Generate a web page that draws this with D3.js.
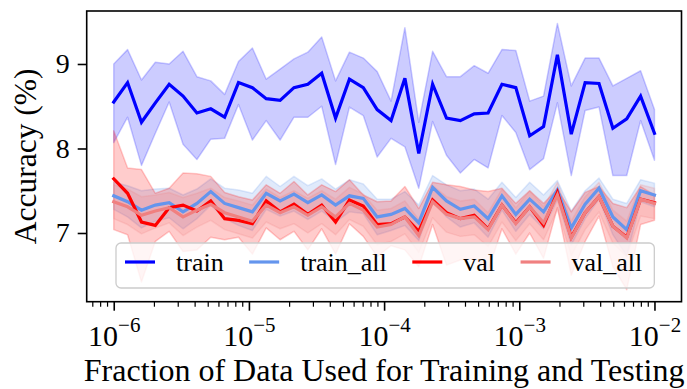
<!DOCTYPE html>
<html>
<head>
<meta charset="utf-8">
<script src="https://cdn.jsdelivr.net/npm/d3@7/dist/d3.min.js"></script>
<style>
  html, body { margin: 0; padding: 0; background: #fff; }
  svg { display: block; }
  svg text { font-family: "Liberation Serif", "Times New Roman", serif !important; fill: #000; }
</style>
</head>
<body>
<svg id="chart" width="687" height="389"></svg>
<script>
// Fraction of data used (40 log-spaced runs between 1e-6 and 1e-2)
const fractions = [
  1.000e-6, 1.266e-6, 1.604e-6, 2.031e-6, 2.571e-6, 3.256e-6, 4.123e-6, 5.221e-6, 6.612e-6, 8.373e-6,
  1.061e-5, 1.343e-5, 1.701e-5, 2.154e-5, 2.728e-5, 3.455e-5, 4.375e-5, 5.540e-5, 7.016e-5, 8.884e-5,
  1.126e-4, 1.425e-4, 1.805e-4, 2.285e-4, 2.894e-4, 3.665e-4, 4.642e-4, 5.878e-4, 7.444e-4, 9.427e-4,
  1.194e-3, 1.512e-3, 1.914e-3, 2.424e-3, 3.070e-3, 3.888e-3, 4.924e-3, 6.236e-3, 7.897e-3, 1.000e-2
];

// Accuracy (%) — mean curves and their shaded lower/upper bounds
const trainMean = [8.55, 8.78, 8.31, 8.54, 8.76, 8.62, 8.42, 8.47, 8.37, 8.78, 8.72, 8.59, 8.57, 8.72, 8.76, 8.89, 8.36, 8.82, 8.72, 8.46,
                   8.33, 8.83, 7.94, 8.76, 8.36, 8.33, 8.41, 8.42, 8.76, 8.72, 8.15, 8.26, 9.11, 8.17, 8.78, 8.77, 8.24, 8.35, 8.62, 8.18];
const trainHi   = [9.00, 9.17, 8.81, 9.02, 9.00, 9.15, 8.85, 8.80, 8.64, 9.03, 9.19, 8.82, 8.94, 9.06, 9.14, 9.32, 8.80, 9.14, 9.07, 8.91,
                   8.56, 9.43, 8.31, 9.15, 8.85, 8.85, 8.98, 8.89, 9.17, 9.16, 8.56, 8.62, 9.48, 8.74, 9.07, 9.07, 8.74, 8.83, 8.92, 8.46];
const trainLo   = [8.07, 8.37, 7.80, 8.18, 8.55, 8.05, 7.87, 8.11, 8.12, 8.52, 8.10, 8.33, 8.10, 8.37, 8.37, 8.50, 7.81, 8.49, 8.39, 7.90,
                   8.12, 8.02, 7.53, 8.32, 7.92, 7.71, 7.87, 7.77, 8.39, 8.19, 7.75, 7.88, 8.54, 7.68, 8.45, 8.49, 7.68, 7.68, 8.33, 7.86];

const trainAllMean = [7.44, 7.37, 7.27, 7.33, 7.36, 7.25, 7.35, 7.49, 7.35, 7.30, 7.25, 7.47, 7.38, 7.46, 7.36, 7.45, 7.33, 7.44, 7.41, 7.19,
                      7.22, 7.29, 7.12, 7.54, 7.38, 7.28, 7.32, 7.17, 7.44, 7.22, 7.40, 7.25, 7.51, 7.06, 7.34, 7.53, 7.19, 7.04, 7.50, 7.45];
const trainAllHi   = [7.60, 7.56, 7.50, 7.52, 7.53, 7.45, 7.52, 7.64, 7.53, 7.51, 7.47, 7.67, 7.55, 7.67, 7.56, 7.64, 7.52, 7.63, 7.58, 7.40,
                      7.40, 7.49, 7.33, 7.68, 7.57, 7.50, 7.52, 7.40, 7.60, 7.42, 7.60, 7.45, 7.62, 7.26, 7.50, 7.65, 7.40, 7.35, 7.63, 7.59];
const trainAllLo   = [7.28, 7.19, 7.06, 7.14, 7.18, 7.05, 7.17, 7.33, 7.17, 7.09, 7.03, 7.28, 7.20, 7.26, 7.16, 7.26, 7.13, 7.25, 7.23, 6.98,
                      7.03, 7.09, 6.91, 7.38, 7.19, 7.07, 7.12, 6.95, 7.27, 7.02, 7.22, 7.05, 7.39, 6.86, 7.17, 7.40, 6.98, 6.73, 7.37, 7.31];

const valMean = [7.64, 7.47, 7.13, 7.09, 7.30, 7.33, 7.26, 7.38, 7.17, 7.15, 7.11, 7.38, 7.25, 7.34, 7.22, 7.33, 7.13, 7.39, 7.32, 7.10,
                 7.11, 7.19, 7.02, 7.39, 7.24, 7.17, 7.21, 7.05, 7.33, 7.12, 7.31, 7.09, 7.48, 6.95, 7.24, 7.43, 7.08, 6.95, 7.40, 7.36];
const valHi   = [8.21, 7.77, 7.75, 7.47, 7.53, 7.71, 7.70, 7.67, 7.48, 7.43, 7.39, 7.57, 7.47, 7.61, 7.45, 7.57, 7.49, 7.63, 7.45, 7.37,
                 7.38, 7.55, 7.29, 7.60, 7.57, 7.55, 7.51, 7.49, 7.53, 7.35, 7.50, 7.35, 7.52, 7.25, 7.48, 7.55, 7.35, 7.30, 7.55, 7.45];
const valLo   = [7.04, 6.98, 6.42, 6.90, 7.02, 6.78, 6.80, 6.95, 6.92, 6.95, 6.75, 7.06, 6.92, 7.02, 6.80, 7.05, 6.75, 7.11, 6.96, 6.72,
                 6.85, 6.80, 6.60, 7.10, 6.62, 6.68, 6.70, 6.55, 7.05, 6.75, 7.00, 6.70, 7.30, 6.50, 6.90, 7.20, 6.60, 6.33, 7.10, 7.15];

const valAllMean = [7.37, 7.31, 7.21, 7.26, 7.30, 7.19, 7.27, 7.34, 7.24, 7.19, 7.14, 7.33, 7.24, 7.31, 7.21, 7.31, 7.19, 7.35, 7.27, 7.07,
                    7.10, 7.19, 6.97, 7.37, 7.22, 7.17, 7.19, 7.04, 7.33, 7.11, 7.31, 7.12, 7.45, 6.94, 7.24, 7.43, 7.08, 6.94, 7.40, 7.35];
const valAllHi   = [7.57, 7.52, 7.43, 7.45, 7.48, 7.42, 7.47, 7.53, 7.42, 7.38, 7.33, 7.52, 7.42, 7.50, 7.41, 7.50, 7.40, 7.54, 7.46, 7.27,
                    7.29, 7.38, 7.16, 7.56, 7.43, 7.38, 7.40, 7.24, 7.52, 7.30, 7.50, 7.31, 7.60, 7.14, 7.43, 7.60, 7.27, 7.14, 7.57, 7.53];
const valAllLo   = [7.17, 7.10, 6.99, 7.06, 7.12, 6.97, 7.07, 7.15, 7.04, 6.99, 6.94, 7.13, 7.05, 7.11, 7.00, 7.11, 6.98, 7.16, 7.08, 6.86,
                    6.90, 6.99, 6.77, 7.18, 7.01, 6.96, 6.98, 6.84, 7.13, 6.91, 7.11, 6.92, 7.28, 6.73, 7.04, 7.25, 6.88, 6.72, 7.20, 7.17];

const seriesNames = ["train", "train_all", "val", "val_all"];
const seriesColors = ["#0000ff", "#6495ed", "#ff0000", "#f08080"];
const xTickValues = [1e-6, 1e-5, 1e-4, 1e-3, 1e-2];
const xTickExponents = ["−6", "−5", "−4", "−3", "−2"];
const yTickValues = [7, 8, 9];
const xLabel = "Fraction of Data Used for Training and Testing";
const yLabel = "Accuracy (%)";

const SERIF = "'Liberation Serif', 'Times New Roman', serif";

const series = [
  { name: seriesNames[0], color: seriesColors[0], mean: trainMean,    lo: trainLo,    hi: trainHi },
  { name: seriesNames[1], color: seriesColors[1], mean: trainAllMean, lo: trainAllLo, hi: trainAllHi },
  { name: seriesNames[2], color: seriesColors[2], mean: valMean,      lo: valLo,      hi: valHi },
  { name: seriesNames[3], color: seriesColors[3], mean: valAllMean,   lo: valAllLo,   hi: valAllHi }
];

const plot = { left: 86.7, right: 681.5, top: 11, bottom: 301.7 };

const svg = d3.select("#chart");

const x = d3.scaleLog()
  .domain([Math.pow(10, -6.2), Math.pow(10, -1.8)])
  .range([plot.left, plot.right]);
const y = d3.scaleLinear()
  .domain([6.187, 9.627])
  .range([plot.bottom, plot.top]);

svg.append("defs").append("clipPath").attr("id", "plot-clip")
  .append("rect")
  .attr("x", plot.left).attr("y", plot.top)
  .attr("width", plot.right - plot.left).attr("height", plot.bottom - plot.top);

const body = svg.append("g").attr("clip-path", "url(#plot-clip)");

// Shaded bands first, then all mean curves on top
const area = s => d3.area()
  .x((d, i) => x(fractions[i]))
  .y0((d, i) => y(s.lo[i]))
  .y1((d, i) => y(s.hi[i]));

series.forEach(s => {
  body.append("path")
    .datum(s.mean)
    .attr("d", area(s))
    .attr("fill", s.color).attr("fill-opacity", 0.2)
    .attr("stroke", s.color).attr("stroke-opacity", 0.2)
    .attr("stroke-width", 1.5)
    .attr("stroke-linejoin", "round");
});

const line = d3.line().x((d, i) => x(fractions[i])).y(d => y(d));
series.forEach(s => {
  body.append("path")
    .datum(s.mean)
    .attr("d", line)
    .attr("fill", "none")
    .attr("stroke", s.color)
    .attr("stroke-width", 3.2)
    .attr("stroke-linejoin", "miter")
    .attr("stroke-linecap", "square");
});

// Legend
const legend = svg.append("g");
const legendBox = legend.append("rect")
  .attr("x", 116).attr("y", 243).attr("height", 45).attr("rx", 5)
  .attr("fill", "#fff").attr("fill-opacity", 0.8)
  .attr("stroke", "#cccccc").attr("stroke-width", 1.3);
let cursor = 125;
const legendMidY = 262;
series.forEach((s, k) => {
  legend.append("line")
    .attr("x1", cursor).attr("x2", cursor + 30)
    .attr("y1", legendMidY).attr("y2", legendMidY)
    .attr("stroke", s.color).attr("stroke-width", 3.2);
  const t = legend.append("text")
    .attr("x", cursor + 51).attr("y", legendMidY + 9)
    .style("font-family", SERIF)
    .attr("font-size", 26)
    .text(s.name);
  cursor = cursor + 51 + t.node().getComputedTextLength() + (k < series.length - 1 ? 25.5 : 12);
});
legendBox.attr("width", cursor - 116);

// Axes
const xMinor = [];
for (let e = -7; e <= -2; e++) {
  for (let m = 2; m <= 9; m++) {
    const v = m * Math.pow(10, e);
    if (v > x.domain()[0] && v < x.domain()[1]) xMinor.push(v);
  }
}
const gx = svg.append("g").attr("transform", `translate(0,${plot.bottom})`);
gx.selectAll("line.minor").data(xMinor).join("line")
  .attr("x1", d => x(d)).attr("x2", d => x(d))
  .attr("y1", 0).attr("y2", 5)
  .attr("stroke", "#000").attr("stroke-width", 1.2);
gx.call(d3.axisBottom(x).tickValues(xTickValues).tickSize(9).tickFormat(""))
  .attr("font-family", SERIF)
  .call(g => g.select(".domain").remove())
  .call(g => g.selectAll(".tick line").attr("stroke-width", 1.6));
gx.selectAll(".tick").each(function(d, i) {
  const t = d3.select(this).append("text")
    .attr("y", 44).attr("text-anchor", "middle")
    .style("font-family", SERIF)
    .attr("font-size", 30).attr("fill", "#000");
  t.append("tspan").text("10");
  t.append("tspan").attr("font-size", 21).attr("dy", -14).text(xTickExponents[i]);
});

const gy = svg.append("g").attr("transform", `translate(${plot.left},0)`);
gy.call(d3.axisLeft(y).tickValues(yTickValues).tickSize(9).tickPadding(8).tickFormat(d3.format("d")))
  .attr("font-family", SERIF)
  .call(g => g.select(".domain").remove())
  .call(g => g.selectAll(".tick line").attr("stroke-width", 1.6))
  .call(g => g.selectAll(".tick text")
    .attr("font-size", 28)
    .style("font-family", SERIF)
    .attr("fill", "#000"));

// Frame
svg.append("rect")
  .attr("x", plot.left).attr("y", plot.top)
  .attr("width", plot.right - plot.left).attr("height", plot.bottom - plot.top)
  .attr("fill", "none").attr("stroke", "#000").attr("stroke-width", 1.6);

// Axis titles
svg.append("text")
  .attr("x", (plot.left + plot.right) / 2).attr("y", 381)
  .attr("text-anchor", "middle").attr("font-size", 32)
  .style("font-family", SERIF)
  .text(xLabel);
svg.append("text")
  .attr("transform", `translate(36,${(plot.top + plot.bottom) / 2}) rotate(-90)`)
  .attr("text-anchor", "middle").attr("font-size", 31.5)
  .style("font-family", SERIF)
  .text(yLabel);
</script>
</body>
</html>
